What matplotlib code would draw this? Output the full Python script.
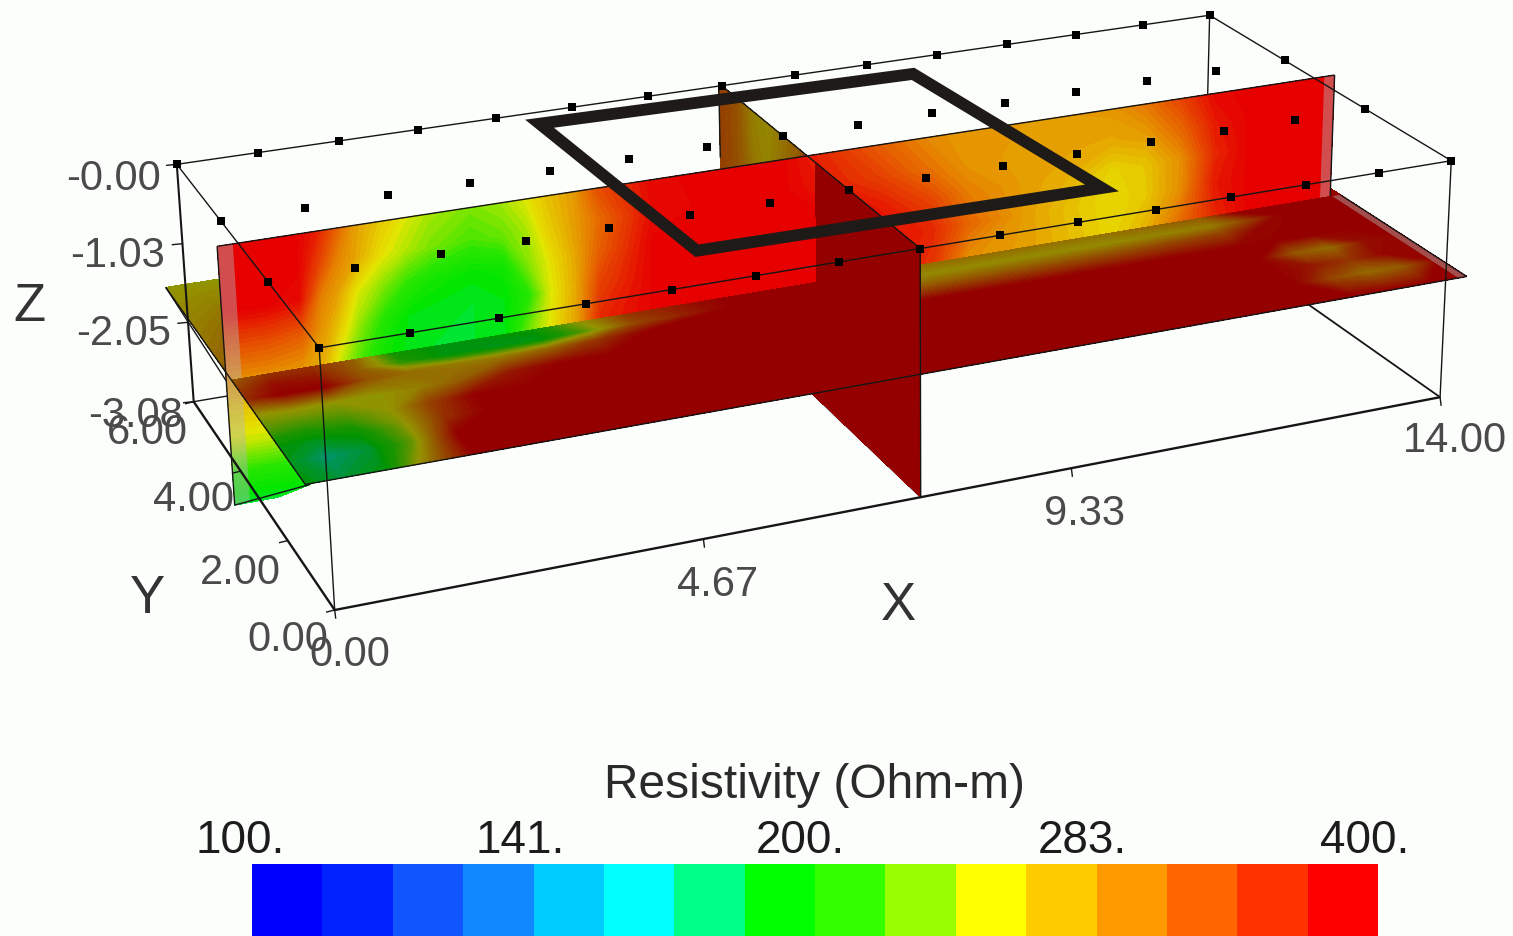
import matplotlib
matplotlib.use('Agg')
import matplotlib.pyplot as plt
from matplotlib.cm import ScalarMappable
from matplotlib.colors import BoundaryNorm, LinearSegmentedColormap, ListedColormap
from matplotlib.patches import Polygon
import numpy as np

W, H = 1513, 937
BG = '#fcfefc'
INK = '#4a4a4a'

# colour bar, 16 bands from 100 to 400 Ohm-m
band_colors = ['#0000ff', '#0022ff', '#1155ff', '#1188ff', '#00ccff', '#00ffff', '#00ff88', '#00ff00',
               '#33ff00', '#99ff00', '#ffff00', '#ffcc00', '#ff9900', '#ff6600', '#ff3300', '#ff0000']
bar_labels = ['100.', '141.', '200.', '283.', '400.']

# electrodes
electrode_x = np.arange(0, 15)
electrode_y = [0, 2, 4, 6]

# slice Y = 3, rows go down in Z, one list per X node
yslice_z = [0.1, -0.3, -0.7, -1.1, -1.54, -1.9, -2.3, -2.7, -3.09]
yslice_x = [-0.3, 0.21, 0.6, 0.85, 1.04, 1.29, 1.58, 1.88, 2.17, 2.66, 3.05, 3.35, 3.59, 3.93, 4.23, 4.91,
            5.6, 6.58, 7.07, 7.85, 8.54, 9.03, 9.81, 10.4, 10.99, 11.48, 11.97, 12.46, 12.95, 14.15]
yslice_res = [
    [400, 400, 400, 345, 300, 270, 245, 205, 185],
    [400, 400, 400, 345, 300, 270, 245, 205, 185],
    [400, 400, 390, 335, 295, 265, 240, 205, 190],
    [375, 350, 310, 295, 280, 255, 230, 200, 190],
    [335, 310, 290, 270, 245, 230, 210, 195, 190],
    [290, 285, 250, 232, 215, 200, 195, 190, 190],
    [268, 255, 228, 205, 195, 190, 190, 190, 190],
    [250, 238, 208, 190, 188, 190, 190, 190, 190],
    [236, 226, 198, 188, 186, 190, 190, 190, 190],
    [226, 214, 192, 186, 186, 190, 190, 190, 190],
    [234, 222, 196, 190, 190, 190, 190, 190, 190],
    [250, 236, 228, 205, 225, 225, 225, 225, 225],
    [270, 262, 250, 245, 250, 250, 250, 250, 250],
    [292, 290, 285, 285, 290, 290, 290, 290, 290],
    [340, 320, 330, 350, 370, 370, 370, 370, 370],
    [395, 390, 400, 400, 400, 400, 400, 400, 400],
    [400, 400, 400, 400, 400, 400, 400, 400, 400],
    [400, 400, 400, 400, 400, 400, 400, 400, 400],
    [370, 380, 400, 400, 400, 400, 400, 400, 400],
    [330, 350, 380, 390, 395, 400, 400, 400, 400],
    [300, 315, 345, 370, 360, 400, 400, 400, 400],
    [295, 295, 310, 325, 300, 400, 400, 400, 400],
    [292, 290, 290, 290, 290, 400, 400, 400, 400],
    [292, 288, 280, 272, 275, 400, 400, 400, 400],
    [295, 285, 262, 258, 260, 400, 400, 400, 400],
    [315, 292, 270, 268, 278, 400, 400, 400, 400],
    [350, 325, 300, 300, 320, 400, 400, 400, 400],
    [395, 380, 370, 380, 370, 400, 400, 400, 400],
    [400, 400, 400, 400, 400, 400, 400, 400, 400],
    [400, 400, 400, 400, 400, 400, 400, 400, 400],
]

# slice Z = -1.54, one list per Y node
zslice_y = [6, 3, 2.7, 2.4, 1.95, 1.5, 1.05, 0.6, 0]
zslice_x = [-0.24, 0.16, 0.66, 1.16, 1.66, 2.16, 2.76, 3.36, 3.96, 4.56, 5.76, 7.0, 7.03, 8.76, 10.76, 12.26, 12.76, 13.26, 13.76, 14.3]
zslice_res = [
    [250, 250, 250, 250, 250, 250, 250, 250, 250, 250, 250, 250, 250, 250, 250, 250, 250, 250, 250, 250],
    [300, 340, 345, 300, 200, 190, 190, 195, 250, 340, 400, 400, 285, 285, 280, 300, 400, 400, 400, 400],
    [330, 380, 370, 300, 215, 188, 185, 185, 230, 320, 400, 400, 262, 258, 258, 270, 320, 400, 400, 400],
    [350, 400, 400, 310, 285, 275, 270, 290, 340, 400, 400, 400, 290, 300, 310, 330, 390, 400, 400, 400],
    [250, 255, 250, 250, 270, 300, 370, 400, 400, 400, 400, 400, 400, 400, 400, 400, 400, 400, 400, 400],
    [225, 220, 225, 250, 330, 400, 400, 400, 400, 400, 400, 400, 400, 400, 400, 400, 300, 285, 380, 400],
    [190, 185, 195, 240, 345, 400, 400, 400, 400, 400, 400, 400, 400, 400, 400, 400, 370, 340, 390, 400],
    [185, 168, 180, 235, 400, 400, 400, 400, 400, 400, 400, 400, 400, 400, 400, 400, 320, 285, 300, 400],
    [190, 178, 190, 280, 400, 400, 400, 400, 400, 400, 400, 400, 400, 400, 400, 400, 400, 400, 400, 400],
]

# slice X = 7, one list per Z node
xslice_y = [6.1, 5.5, 5, 4.5, 4, 3.5, 3, 2, 0]
xslice_z = [0, -0.5, -1.0, -1.54, -3.08]
xslice_res = [
    [330, 310, 270, 262, 280, 300, 400, 400, 400],
    [330, 310, 275, 265, 285, 310, 400, 400, 400],
    [330, 310, 285, 275, 295, 330, 400, 400, 400],
    [330, 320, 300, 300, 320, 360, 400, 400, 400],
    [400, 400, 400, 400, 400, 400, 400, 400, 400],
]

# outlined square on the surface
square_x = [4.43, 9.4, 9.75, 4.67]
square_y = [5.6, 5.44, 0.87, 0.95]

# tick values on the box axes
z_ticks = [-0.00, -1.03, -2.05, -3.08]
y_ticks = [0.00, 2.00, 4.00, 6.00]
x_ticks = [0.00, 4.67, 9.33, 14.00]

# box points: (X, Y, Z) and where they sit in the picture
box_xyz = np.array([[0, 0, 0], [14, 0, 0], [0, 6, 0], [14, 6, 0],
                    [0, 0, -3.08], [14, 0, -3.08], [0, 6, -3.08], [14, 6, -3.08],
                    [7, 0, 0], [7, 6, 0], [7, 0, -3.08], [0, 2, 0], [14, 2, 0]], float)
box_px = np.array([[319, 350], [1453, 161], [178, 165], [1207, 16],
                   [334, 612], [1437, 398], [193, 400], [1208, 235],
                   [922, 250], [720, 87], [921, 497], [268, 284], [1365, 108]], float)


def fit_camera(xyz, px):
    rows = []
    for (x, y, z), (u, v) in zip(xyz, px):
        rows.append([x, y, z, 1, 0, 0, 0, 0, -u * x, -u * y, -u * z, -u])
        rows.append([0, 0, 0, 0, x, y, z, 1, -v * x, -v * y, -v * z, -v])
    return np.linalg.svd(np.array(rows))[2][-1].reshape(3, 4)


CAM = fit_camera(box_xyz, box_px)


def project(x, y, z):
    x, y, z = np.broadcast_arrays(np.asarray(x, float), np.asarray(y, float), np.asarray(z, float))
    pts = np.stack([x, y, z, np.ones_like(x)])
    u = np.tensordot(CAM, pts, axes=1)
    return u[0] / u[2], u[1] / u[2]


def to_level(res):
    return np.log(np.asarray(res, float) / 100) / np.log(4)


def shaded_cmap(shade):
    cols = [np.array(matplotlib.colors.to_rgb(c)) * shade for c in band_colors]
    return LinearSegmentedColormap.from_list('res', cols, N=256)


LEVELS = np.linspace(-0.01, 1.01, 70)


def draw_slice(ax, x, y, z, res, shade, zorder):
    sx, sy = project(x, y, z)
    ax.contourf(sx, sy, to_level(res), levels=LEVELS, cmap=shaded_cmap(shade), vmin=0, vmax=1,
                zorder=zorder, extend='both')


def line3d(ax, a, b, lw=1.0, zorder=20):
    sx, sy = project([a[0], b[0]], [a[1], b[1]], [a[2], b[2]])
    ax.plot(sx, sy, color='#151515', lw=lw, zorder=zorder, solid_capstyle='butt')


def axis_ticks(ax, a, b, ticks, dx, dy):
    # these ticks are evenly spaced on screen, not in perspective
    ax0 = np.array(project(*a))
    ax1 = np.array(project(*b))
    t0, t1 = ticks[0], ticks[-1]
    for t in ticks:
        p = ax0 + (ax1 - ax0) * (t - t0) / (t1 - t0)
        ax.plot([p[0], p[0] + dx], [p[1], p[1] + dy], color='#151515', lw=1, zorder=20)


fig = plt.figure(figsize=(W / 100, H / 100), dpi=100, facecolor=BG)
ax = fig.add_axes([0, 0, 1, 1])
ax.set_xlim(0, W)
ax.set_ylim(H, 0)
ax.axis('off')

zt, zb = 0.0, -3.08

# box edges hidden by the slices
line3d(ax, (14, 6, zt), (14, 6, zb), zorder=1)
line3d(ax, (0, 6, zb), (14, 6, zb), zorder=1)
line3d(ax, (14, 6, zb), (14, 0, zb), lw=1.3, zorder=1)

# slices, back to front
res_y = np.array(yslice_res).T
res_z = np.array(zslice_res)
res_x = np.array(xslice_res)

X, Y = np.meshgrid(xslice_y, xslice_z)
draw_slice(ax, 7.0, X[:, :7], Y[:, :7], res_x[:, :7], 0.58, 2)
X, Y = np.meshgrid(zslice_x, zslice_y[:2])
draw_slice(ax, X, Y, -1.54, res_z[:2], 0.58, 3)
X, Z = np.meshgrid(yslice_x, yslice_z)
Z[-1, 2] = -3.0  # lower part stays tucked behind the front edge of the flat slice
draw_slice(ax, X[:5], 3.0, Z[:5], res_y[:5], 0.9, 4)
draw_slice(ax, X[4:, :3], 3.0, Z[4:, :3], res_y[4:, :3], 0.9, 4)
X, Z = np.meshgrid(xslice_y[6:], xslice_z[3:])
draw_slice(ax, 7.0, X, Z, res_x[3:, 6:], 0.58, 5)
X, Y = np.meshgrid(zslice_x, zslice_y[1:])
draw_slice(ax, X, Y, -1.54, res_z[1:], 0.58, 6)
X, Z = np.meshgrid(xslice_y[6:], xslice_z[:4])
draw_slice(ax, 7.0, X, Z, res_x[:4, 6:], 0.58, 7)

# pale rims at the slice ends
for x0, x1, z1 in [(-0.3, -0.12, -3.09), (14.0, 14.15, -1.54)]:
    sx, sy = project([x0, x1, x1, x0], 3.0, [0.1, 0.1, z1, z1])
    ax.fill(sx, sy, color='#b8b8b8', alpha=0.42, lw=0, zorder=4.5)
sx, sy = project([14.18, 14.3, 14.3, 14.18], [3, 3, 0, 0], -1.54)
ax.fill(sx, sy, color='#b8b8b8', alpha=0.42, lw=0, zorder=6.5)

# slice outlines
line3d(ax, (-0.3, 3, 0.1), (14.15, 3, 0.1), zorder=8)
line3d(ax, (-0.3, 3, 0.1), (-0.3, 3, -3.09), zorder=4.6)
line3d(ax, (14.15, 3, 0.1), (14.15, 3, -1.54), zorder=4.6)
line3d(ax, (-0.3, 3, -3.09), (0.6, 3, -3.0), zorder=4.6)
line3d(ax, (-0.24, 6, -1.54), (-0.24, 0, -1.54), zorder=8)
line3d(ax, (-0.24, 0, -1.54), (14.3, 0, -1.54), zorder=8)
line3d(ax, (14.3, 0, -1.54), (14.3, 3, -1.54), zorder=8)
line3d(ax, (-0.24, 6, -1.54), (-0.3, 3, -1.54), zorder=3.5)
line3d(ax, (7, 6.1, 0), (7, 0, 0), zorder=8)
line3d(ax, (7, 6.1, 0), (7, 6.1, -1.0), zorder=3.5)
line3d(ax, (7, 0, 0), (7, 0, zb), zorder=8)
line3d(ax, (7, 0, zb), (7, 3, zb), zorder=4.9)

# box edges in front
line3d(ax, (0, 0, zt), (14, 0, zt))
line3d(ax, (0, 6, zt), (14, 6, zt))
line3d(ax, (0, 0, zt), (0, 6, zt))
line3d(ax, (14, 0, zt), (14, 6, zt))
line3d(ax, (0, 6, zt), (0, 6, zb), lw=1.5)
line3d(ax, (0, 0, zt), (0, 0, zb))
line3d(ax, (14, 0, zt), (14, 0, zb))
line3d(ax, (0, 0, zb), (14, 0, zb), lw=1.7)
line3d(ax, (0, 0, zb), (0, 6, zb), lw=1.7)

axis_ticks(ax, (0, 6, z_ticks[0]), (0, 6, z_ticks[-1]), z_ticks, -10, 1)
axis_ticks(ax, (0, y_ticks[0], zb), (0, y_ticks[-1], zb), y_ticks, -8, 2)
axis_ticks(ax, (x_ticks[0], 0, zb), (x_ticks[-1], 0, zb), x_ticks, 1, 8)

# electrodes
EX, EY = np.meshgrid(electrode_x, electrode_y)
sx, sy = project(EX, EY, 0.0)
ax.scatter(sx.ravel(), sy.ravel(), marker='s', s=40, color='black', lw=0, zorder=21)

# the square drawn over the picture
sx, sy = project(square_x, square_y, 0.0)
ax.add_patch(Polygon(np.column_stack([sx, sy]), closed=True, fill=False, edgecolor='#1d1a18',
                     lw=8.5, joinstyle='miter', zorder=22))

# tick labels
font = 'Liberation Sans'
tick_text = [('-0.00', 113, 179), ('-1.03', 117, 256), ('-2.05', 124, 334), ('-3.08', 135, 416),
             ('6.00', 147, 433), ('4.00', 193, 500), ('2.00', 240, 573), ('0.00', 288, 640),
             ('0.00', 350, 655), ('4.67', 718, 585), ('9.33', 1085, 514), ('14.00', 1455, 441)]
for s, px, py in tick_text:
    ax.text(px, py, s, ha='center', va='center', family=font, fontsize=30, color=INK, zorder=25)
for s, px, py in [('Z', 29, 307), ('Y', 147, 599), ('X', 898, 606)]:
    ax.text(px, py, s, ha='center', va='center', family=font, fontsize=38, color='#333333', zorder=25)

# colour bar
ax.text(814, 786, 'Resistivity (Ohm-m)', ha='center', va='center', family=font, fontsize=34.5, color='#2a2a2a')
for s, px in zip(bar_labels, [240, 520, 800, 1082, 1365]):
    ax.text(px, 841, s, ha='center', va='center', family=font, fontsize=33, color='#1c1c1c')
cax = fig.add_axes([252 / W, 0, (1378 - 252) / W, 72 / H])
edges = np.arange(17)
sm = ScalarMappable(norm=BoundaryNorm(edges, 16), cmap=ListedColormap(band_colors))
cb = fig.colorbar(sm, cax=cax, orientation='horizontal', spacing='proportional')
cb.set_ticks([])
cb.outline.set_visible(False)

fig.savefig('out.png', dpi=100, facecolor=BG)
